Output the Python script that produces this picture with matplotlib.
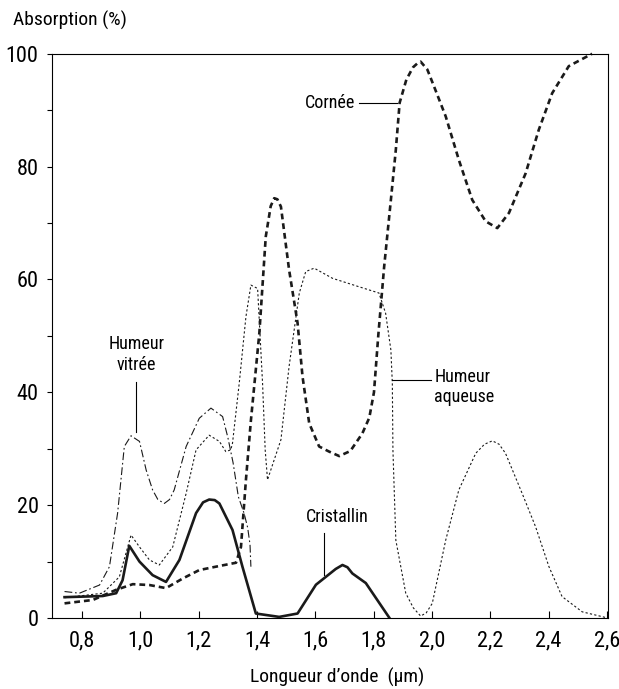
import matplotlib
matplotlib.use("Agg")
import matplotlib.pyplot as plt
from matplotlib import font_manager as fm

# look for a narrow sans face, the reference uses a condensed font
narrow_path = None
for key in ['liberationsansnarrow-regular', 'robotocondensed-regular',
            'dejavusanscondensed.ttf', 'opensans_condensed-regular',
            'opensanscondensed-regular', 'notosansdisplay-condensed',
            'notosans-condensed.ttf', 'notosans-condensedregular']:
    for f in fm.fontManager.ttflist:
        if key in f.fname.lower().replace(' ', ''):
            narrow_path = f.fname
            break
    if narrow_path:
        break
if narrow_path is None:
    for f in fm.fontManager.ttflist:
        fn = f.fname.lower()
        if ('condensed' in fn or 'narrow' in fn) and not any(
                w in fn for w in ['bold', 'italic', 'oblique', 'light', 'thin', 'black', 'medium', 'semi', 'extra']):
            narrow_path = f.fname
            break

if narrow_path:
    fm.fontManager.addfont(narrow_path)
    fam = fm.FontProperties(fname=narrow_path).get_name()
    plt.rcParams['font.family'] = [fam, 'DejaVu Sans']
    plt.rcParams['font.stretch'] = fm.FontProperties(fname=narrow_path).get_stretch()
    TICK_FS, LAB_FS, CUR_FS = 16, 14, 13
else:
    plt.rcParams['font.family'] = ['DejaVu Sans']
    TICK_FS, LAB_FS, CUR_FS = 12.5, 11, 10

# Cornée (thick dashed)
x_cornee = [0.740, 0.837, 0.917, 0.974, 1.031, 1.088, 1.145, 1.202, 1.259, 1.328,
            1.345, 1.362, 1.379, 1.408, 1.430, 1.447, 1.459, 1.470, 1.482, 1.510,
            1.539, 1.556, 1.579, 1.613, 1.647, 1.682, 1.720, 1.761, 1.785, 1.801,
            1.816, 1.836, 1.859, 1.876, 1.889, 1.912, 1.935, 1.950, 1.961, 1.984,
            2.007, 2.047, 2.092, 2.138, 2.184, 2.224, 2.264, 2.321, 2.366, 2.412,
            2.469, 2.549]
y_cornee = [2.6, 3.2, 5.0, 6.0, 5.85, 5.3, 7.0, 8.5, 9.1, 9.8,
            12.6, 24.5, 35.0, 50.5, 67.6, 73.0, 74.4, 74.2, 72.9, 61.7,
            52.3, 42.8, 34.5, 30.4, 29.5, 28.7, 29.6, 32.7, 35.5, 40.0,
            50.2, 62.3, 74.1, 83.0, 91.3, 95.4, 97.6, 98.3, 98.6, 97.2,
            94.2, 88.9, 81.2, 74.1, 70.3, 69.1, 71.8, 78.8, 86.5, 93.0,
            97.8, 100.0]

# Humeur aqueuse (fine dotted)
x_aqueuse = [0.740, 0.871, 0.928, 0.968, 0.997, 1.031, 1.065, 1.111, 1.157, 1.191,
             1.236, 1.271, 1.293, 1.310, 1.316, 1.339, 1.362, 1.379, 1.402, 1.419,
             1.428, 1.436, 1.482, 1.510, 1.545, 1.567, 1.596, 1.659, 1.750, 1.818,
             1.841, 1.859, 1.864, 1.866, 1.876, 1.910, 1.936, 1.961, 1.980, 2.001,
             2.047, 2.092, 2.150, 2.180, 2.207, 2.230, 2.252, 2.309, 2.355, 2.401,
             2.446, 2.515, 2.595]
y_aqueuse = [3.6, 4.4, 7.3, 14.7, 12.6, 10.3, 9.4, 12.6, 22.1, 29.8,
             32.4, 31.3, 29.5, 29.8, 31.0, 41.6, 53.4, 59.0, 58.4, 41.6,
             29.8, 24.5, 31.6, 44.6, 57.6, 61.4, 62.0, 60.2, 58.7, 57.6,
             54.0, 47.5, 41.6, 29.8, 13.8, 4.4, 1.8, 0.35, 0.9, 2.6,
             13.8, 22.7, 29.2, 30.8, 31.4, 30.8, 29.2, 22.1, 16.2, 9.1,
             3.8, 1.1, 0.1]

# Humeur vitrée (dash-dot)
x_vitree = [0.740, 0.791, 0.860, 0.894, 0.922, 0.945, 0.968, 0.997, 1.020, 1.042,
            1.060, 1.082, 1.100, 1.116, 1.157, 1.202, 1.242, 1.282, 1.300, 1.318,
            1.336, 1.356, 1.368, 1.376, 1.379]
y_vitree = [4.7, 4.4, 5.85, 9.1, 18.6, 30.4, 32.3, 31.3, 26.2, 22.7,
            21.0, 20.3, 21.0, 22.7, 30.4, 35.4, 37.2, 35.7, 32.0, 27.5,
            21.5, 18.5, 16.0, 13.0, 9.1]

# Cristallin (solid)
x_cristallin = [0.740, 0.871, 0.917, 0.939, 0.962, 0.997, 1.042, 1.088, 1.134, 1.191,
                1.215, 1.236, 1.255, 1.271, 1.316, 1.350, 1.396, 1.476, 1.539, 1.602,
                1.636, 1.670, 1.693, 1.710, 1.727, 1.773, 1.853]
y_cristallin = [3.7, 3.9, 4.4, 6.7, 12.8, 10.0, 7.6, 6.4, 10.3, 18.6,
                20.5, 21.0, 20.9, 20.3, 15.6, 9.1, 0.8, 0.2, 0.8, 5.9,
                7.3, 8.7, 9.4, 9.0, 7.9, 6.2, 0.1]

x_ticks = [0.8, 1.0, 1.2, 1.4, 1.6, 1.8, 2.0, 2.2, 2.4, 2.6]
x_labels = ['0,8', '1,0', '1,2', '1,4', '1,6', '1,8', '2,0', '2,2', '2,4', '2,6']
y_ticks = [0, 20, 40, 60, 80, 100]
y_minor = [10, 30, 50, 70, 90]

fig = plt.figure(figsize=(6.19, 6.89), dpi=100)
ax = fig.add_axes([0.084, 0.103, 0.898, 0.819])

ax.plot(x_cornee, y_cornee, color='#1a1a1a', lw=1.9, dashes=(2.2, 1.5), clip_on=False)
ax.plot(x_aqueuse, y_aqueuse, color='#1a1a1a', lw=0.8, dashes=(2, 2))
ax.plot(x_vitree, y_vitree, color='#1a1a1a', lw=0.8, dashes=(7, 2.5, 1.5, 2.5))
ax.plot(x_cristallin, y_cristallin, color='#1a1a1a', lw=1.9, solid_joinstyle='round')

ax.set_xlim(0.697, 2.603)
ax.set_ylim(0, 100)
ax.set_xticks(x_ticks)
ax.set_xticklabels(x_labels)
ax.set_yticks(y_ticks)
ax.set_yticks(y_minor, minor=True)
ax.tick_params(axis='x', direction='in', length=5, width=0.8, labelsize=TICK_FS, pad=9)
ax.tick_params(axis='y', which='both', direction='out', length=3.6, width=0.8,
               labelsize=TICK_FS, pad=6)
for s in ax.spines.values():
    s.set_linewidth(0.8)

# curve labels
ax.text(0.986, 48.6, 'Humeur', ha='center', va='center', fontsize=CUR_FS)
ax.text(0.986, 44.9, 'vitrée', ha='center', va='center', fontsize=CUR_FS)
ax.plot([0.986, 0.986], [41.9, 33.0], color='black', lw=0.8)

ax.text(1.651, 91.3, 'Cornée', ha='center', va='center', fontsize=CUR_FS)
ax.plot([1.750, 1.880], [91.3, 91.3], color='black', lw=0.8)

ax.text(2.008, 42.8, 'Humeur', ha='left', va='center', fontsize=CUR_FS)
ax.text(2.008, 39.2, 'aqueuse', ha='left', va='center', fontsize=CUR_FS)
ax.plot([1.863, 1.995], [42.1, 42.1], color='black', lw=0.8)

ax.text(1.675, 17.9, 'Cristallin', ha='center', va='center', fontsize=CUR_FS)
ax.plot([1.630, 1.630], [15.0, 7.6], color='black', lw=0.8)

fig.text(13 / 619, 1 - 20 / 689, 'Absorption (%)', ha='left', va='center', fontsize=LAB_FS)
fig.text(337 / 619, 1 - 677 / 689, 'Longueur d\u2019onde  (\u00b5m)', ha='center',
         va='center', fontsize=LAB_FS)

fig.savefig('out.png', dpi=100)
